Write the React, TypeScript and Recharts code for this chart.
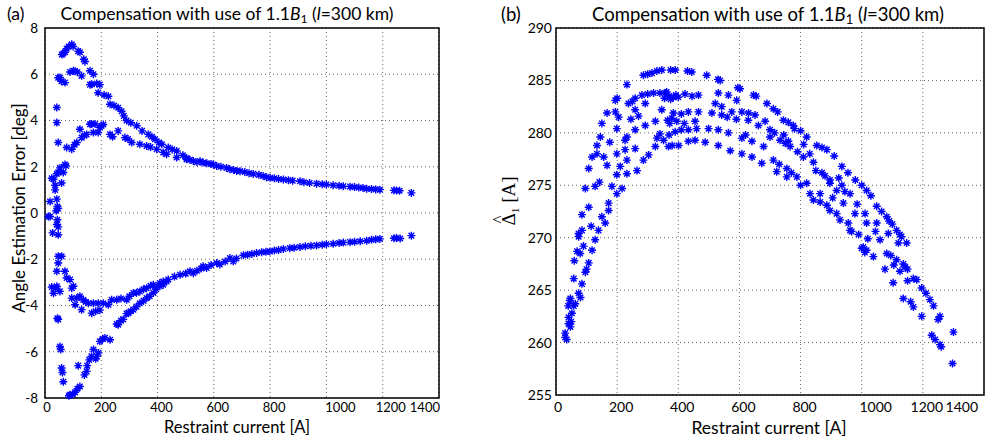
import { CartesianGrid, ReferenceArea, Scatter, ScatterChart, XAxis, YAxis } from 'recharts';

type Pt = [number, number];

const currentTicks = [0, 200, 400, 600, 800, 1000, 1200, 1400];
const errorTicks = [-8, -6, -4, -2, 0, 2, 4, 6, 8];
const deltaTicks = [255, 260, 265, 270, 275, 280, 285, 290];

// (a) angle estimation error [deg] vs restraint current [A]
const errUpperA: Pt[] = [
  [60, 6.85], [65, 6.9], [71, 6.95], [77, 7.1], [84, 7.2], [95, 7.3], [100, 7.2], [118, 7.0], [124, 6.95],
  [138, 6.65], [142, 6.55], [160, 6.15], [172, 6.0], [184, 5.6], [195, 5.55], [189, 5.2], [210, 5.1],
  [225, 5.05], [231, 4.7], [245, 4.65], [260, 4.55], [272, 4.4], [280, 4.2], [290, 4.0], [305, 3.9],
  [326, 3.77], [345, 3.55], [367, 3.4], [380, 3.3], [391, 3.19], [405, 3.05], [415, 2.97], [438, 2.83],
  [452, 2.75], [468, 2.68], [490, 2.5],
];
const errUpperB: Pt[] = [
  [47, 5.85], [53, 5.86], [58, 5.7], [71, 5.64], [89, 6.1], [101, 6.15], [107, 6.13], [115, 6.1],
  [130, 5.93], [160, 5.55], [166, 5.57],
];
const errUpperC: Pt[] = [
  [42, 4.56], [42, 3.91], [47, 3.05], [77, 2.83], [95, 2.76], [105, 2.95], [113, 3.05], [124, 3.62],
  [130, 3.26], [140, 3.35], [148, 3.4], [160, 3.84], [165, 3.85], [172, 3.48], [178, 3.85], [189, 3.48],
  [195, 3.7], [201, 3.77], [207, 3.83], [231, 3.4], [240, 3.3], [260, 3.55], [284, 3.26], [295, 3.2],
  [308, 3.05], [337, 2.97], [361, 2.9], [375, 2.85], [397, 2.76], [420, 2.62], [432, 2.54], [468, 2.4],
  [503, 2.32],
];
const errRise: Pt[] = [
  [12, -0.15], [18, 0.5], [24, 1.5], [30, 1.46], [36, 1.0], [36, 1.2], [42, 0.6], [42, 1.7], [44, 0.28],
  [47, 0.2], [47, 1.75], [53, 1.95], [59, 1.3], [65, 1.75], [71, 2.1], [75, 2.04],
  [18, -0.15], [27, -0.86], [44, -0.29], [47, -0.94], [47, -0.6], [42, -0.5], [40, 0.1],
];
const errTailUp: Pt[] = [
  [503, 2.38], [515, 2.3], [527, 2.25], [540, 2.2], [551, 2.24], [562, 2.18], [575, 2.15], [590, 2.12],
  [598, 2.1], [610, 2.03], [625, 2.0], [645, 1.95], [657, 1.89], [670, 1.86], [681, 1.82], [693, 1.81],
  [710, 1.77], [725, 1.72], [740, 1.69], [760, 1.65], [775, 1.6], [787, 1.55], [800, 1.52], [815, 1.5],
  [830, 1.47], [847, 1.45], [865, 1.42], [880, 1.4], [906, 1.37], [920, 1.33], [940, 1.3], [965, 1.27],
  [985, 1.24], [1000, 1.23], [1024, 1.2], [1045, 1.18], [1060, 1.16], [1084, 1.14], [1100, 1.12],
  [1115, 1.1], [1130, 1.08], [1143, 1.05], [1160, 1.04], [1175, 1.02], [1190, 1.01], [1240, 0.98],
  [1249, 0.97], [1260, 0.96], [1302, 0.87],
];
const errLowerA: Pt[] = [
  [24, -3.2], [30, -3.47], [36, -3.25], [47, -4.6], [44, -4.55], [53, -5.77], [56, -5.9], [59, -6.7],
  [62, -6.9], [65, -7.3], [85, -7.9], [89, -7.86], [98, -7.85], [107, -7.75], [115, -7.6], [124, -7.5],
  [118, -6.6], [140, -7.0], [148, -6.85], [150, -6.6], [157, -6.35], [165, -6.2], [172, -5.9], [180, -6.3],
  [184, -6.2], [190, -6.05], [195, -5.55], [205, -5.45], [213, -5.4], [231, -5.48], [255, -4.8],
  [260, -4.83], [270, -4.65], [278, -4.6], [290, -4.35], [296, -4.33], [305, -4.25], [314, -4.18],
  [325, -4.05], [337, -3.9], [350, -3.8], [361, -3.68], [372, -3.6], [385, -3.46], [395, -3.3],
  [408, -3.17], [420, -3.1], [432, -2.96],
];
const errLowerB: Pt[] = [
  [42, -2.52], [47, -1.87], [47, -2.16], [59, -1.87], [53, -3.39], [42, -3.17], [71, -2.52], [77, -2.81],
  [89, -2.88], [95, -3.25], [101, -3.17], [95, -3.68], [107, -3.97], [113, -3.68], [124, -3.6],
  [130, -4.18], [136, -3.75], [145, -3.85], [154, -3.9], [166, -4.33], [172, -3.9], [180, -4.25],
  [189, -3.9], [195, -4.2], [207, -3.9], [225, -3.97], [237, -3.75], [255, -3.75], [270, -3.7],
  [290, -3.75], [300, -3.6], [314, -3.46], [325, -3.45], [337, -3.39], [350, -3.3], [361, -3.25],
  [375, -3.15], [385, -3.1], [408, -3.03], [420, -2.96], [438, -2.88], [460, -2.75], [480, -2.67],
];
const errTailLow: Pt[] = [
  [500, -2.62], [515, -2.52], [527, -2.6], [540, -2.5], [555, -2.4], [562, -2.3], [574, -2.38],
  [590, -2.25], [610, -2.16], [621, -2.23], [640, -2.1], [657, -1.95], [669, -2.09], [680, -1.97],
  [705, -1.83], [720, -1.8], [735, -1.77], [752, -1.73], [770, -1.7], [785, -1.68], [799, -1.66],
  [815, -1.62], [830, -1.6], [847, -1.56], [870, -1.52], [885, -1.5], [906, -1.47], [925, -1.44],
  [945, -1.42], [965, -1.4], [985, -1.37], [1000, -1.35], [1024, -1.33], [1045, -1.3], [1060, -1.28],
  [1084, -1.26], [1100, -1.24], [1120, -1.22], [1143, -1.2], [1160, -1.16], [1175, -1.14], [1190, -1.12],
  [1240, -1.09], [1249, -1.08], [1262, -1.1], [1302, -0.98],
];

// (b) delta_1 estimate [A] vs restraint current [A]
const deltaBandA: Pt[] = [
  [286, 285.5], [300, 285.6], [314, 285.7], [330, 285.9], [346, 286], [375, 286], [390, 286], [430, 285.9],
  [444, 285.8], [493, 285.5], [530, 285.1], [537, 285], [595, 284.3], [602, 284.2], [646, 283.6],
  [655, 283.5], [690, 282.8], [711, 282.3], [725, 282], [744, 281.2], [760, 281], [776, 280.7],
  [800, 280.2], [820, 279.6], [853, 278.8], [870, 278.6], [886, 278.4], [910, 277.8], [935, 276.8],
  [955, 276.2], [979, 275.5], [1000, 275], [1016, 274.5], [1030, 274], [1049, 273], [1065, 272.5],
  [1082, 272], [1100, 271.3], [1114, 270.7], [1130, 270.1], [1147, 269.5],
];
const deltaBandB: Pt[] = [
  [194, 283.1], [200, 283.3], [232, 284.6], [237, 282.8], [250, 283], [259, 283.3], [281, 283.6],
  [300, 283.7], [319, 283.8], [340, 283.8], [357, 283.8], [370, 283.5], [384, 283.4], [400, 283.4],
  [422, 283.7], [445, 283.5], [466, 283.6], [531, 283.8], [564, 283.6], [591, 283.1], [521, 282.8],
  [542, 282.5], [575, 282], [608, 282], [630, 281.9], [651, 281.7], [684, 281.1], [700, 280.3],
  [715, 280], [733, 279.3], [750, 279], [766, 278.7], [790, 278.2], [809, 277.7], [842, 277.2],
  [870, 276.2], [896, 275.5], [935, 275], [962, 274.2], [985, 273.2], [1011, 272.3], [1049, 271.4],
  [1087, 270.4], [1120, 269.5], [1136, 267.5], [1150, 267], [1169, 266.1], [1196, 265.2],
];
const deltaBandC: Pt[] = [
  [167, 281.9], [150, 280.9], [134, 278.8], [118, 277.7], [107, 276.6], [96, 274.7], [85, 272.2],
  [74, 270.4], [69, 268.7], [58, 266.1], [47, 264.2], [41, 262.4], [30, 260.5], [199, 280.4],
  [205, 281.5], [226, 279.3], [259, 280.3], [259, 282.2], [292, 280.7], [292, 282.8], [325, 281.1],
  [346, 282.2], [379, 281.4], [384, 281.9], [410, 281.8], [433, 282], [455, 281.1], [466, 282],
  [510, 281.9], [542, 281.7], [629, 281.2], [662, 280.7],
];
const deltaBandD: Pt[] = [
  [711, 277.4], [730, 277], [755, 276.6], [770, 276.2], [788, 275.8], [820, 275.2], [864, 274.2],
  [896, 275.2], [918, 274.5], [940, 273.3], [978, 272.3], [1016, 271.4], [1060, 269.8], [1082, 268.5],
  [1114, 267.9], [1142, 267.2], [1180, 266], [1223, 264.1], [1235, 263.5], [1256, 262.5], [1300, 261],
];
const deltaBandE: Pt[] = [
  [216, 274.7], [232, 276.1], [265, 276.4], [286, 277.4], [303, 277.9], [325, 278.7], [352, 279.3],
  [370, 279.8], [390, 280.1], [410, 280.3], [433, 280.3], [460, 280.4], [499, 280.4], [531, 280.3],
  [564, 280], [608, 279.5], [641, 279.2], [679, 278.7], [842, 273.6], [886, 273.1], [918, 272.3],
  [956, 271.4], [967, 270.6], [1000, 269], [1038, 268.2], [1076, 267], [1103, 265.7], [1136, 264.2],
  [1169, 263.4], [1196, 262.5], [1229, 260.7], [1240, 260.3], [1256, 259.8], [1260, 259.6], [1297, 258],
];
const deltaBandF: Pt[] = [
  [368, 278.7], [380, 278.8], [401, 278.8], [433, 279.2], [455, 279.3], [488, 279.1], [531, 278.8],
  [570, 278.3], [608, 278], [641, 277.7], [673, 277.1], [722, 276.3], [755, 275.8], [800, 275],
  [831, 274.2], [864, 273.4], [896, 272.6], [929, 271.7], [962, 270.7], [1005, 269.1], [1016, 268.8],
];
const deltaRise: Pt[] = [
  [30, 260.9], [35, 260.3], [41, 261.8], [47, 261.5], [52, 262.8], [58, 263.5], [63, 263.7], [74, 264.7],
  [80, 264.3], [85, 265.6], [96, 266.7], [100, 267], [107, 267.6], [118, 268.8], [128, 269.8],
  [139, 270.7], [150, 272], [161, 271.4], [172, 272.6], [172, 273.3], [183, 274.9], [199, 274.2],
  [128, 274.9], [107, 272.9], [85, 270.7], [74, 270.1], [79, 268.5], [156, 277.7], [134, 278],
  [167, 276.9], [199, 276], [199, 278], [226, 278.4], [232, 277.4], [232, 279.6], [259, 278.5],
  [145, 279.6], [194, 282], [40, 263.5], [45, 264], [50, 262],
];
const deltaExtra: Pt[] = [
  [355, 283.3], [362, 283.9], [375, 283.2], [392, 283.6], [365, 281.2], [372, 280.9], [395, 281.1],
  [420, 280.9], [330, 279.5], [340, 279.9], [560, 281.5], [590, 281.3], [620, 279.8], [700, 279.6],
  [745, 279.8], [760, 279.2], [780, 280.4], [810, 278.9], [830, 278], [850, 276.4], [880, 275.9],
  [905, 273.8], [925, 275.7], [945, 274.4], [990, 270.3], [1010, 268.6], [1020, 269.9], [1045, 270.6],
  [1095, 268.3], [1105, 267.4], [1125, 266.8], [1150, 265.9], [1160, 263.9], [1210, 264.7],
  [1250, 262.2], [1125, 270.3], [1090, 271.6], [60, 267.8], [90, 269.2], [115, 271.1], [142, 275.3],
  [176, 279.1], [210, 276.8], [245, 281.3], [270, 281.6],
];

const errorSets = [errUpperA, errUpperB, errUpperC, errRise, errTailUp, errLowerA, errLowerB, errTailLow];
const deltaSets = [deltaBandA, deltaBandB, deltaBandC, deltaBandD, deltaBandE, deltaBandF, deltaRise, deltaExtra];

const FONT = 'Lato, "Liberation Sans", sans-serif';
const BLUE = '#0000ff';

const toRows = (pts: Pt[]) => pts.map(([x, y]) => ({ x, y }));

function Asterisk(props: any) {
  const { cx, cy } = props;
  if (cx == null || cy == null) return null;
  const r = 4;
  const d = 2.8;
  return (
    <path
      d={`M${cx - r},${cy}H${cx + r}M${cx},${cy - r}V${cy + r}M${cx - d},${cy - d}L${cx + d},${cy + d}M${cx - d},${cy + d}L${cx + d},${cy - d}`}
      stroke={BLUE}
      strokeWidth={1.4}
      fill="none"
    />
  );
}

function CurrentTick(props: any) {
  const { x, y, payload, size, shift1200 } = props;
  const v = payload.value;
  let anchor = 'middle';
  let dx = 4;
  if (v === 0) dx = 2;
  if (v === 1000) dx = 14;
  if (v === 1200) dx = shift1200;
  if (v === 1400) {
    anchor = 'end';
    dx = 1;
  }
  return (
    <text x={x + dx} y={y} dy="0.71em" textAnchor={anchor} fontSize={size} fill="#000" fontFamily={FONT}>
      {v}
    </text>
  );
}

const gridProps = { stroke: '#666', strokeDasharray: '1 3' };

function ErrorPanel() {
  return (
    <ScatterChart width={460} height={441} margin={{ top: 28, right: 21, bottom: 0, left: 0 }}>
      <CartesianGrid {...gridProps} />
      <XAxis
        type="number"
        dataKey="x"
        domain={[0, 1400]}
        ticks={currentTicks}
        height={43}
        axisLine={false}
        tickLine={false}
        tickSize={0}
        tickMargin={5}
        tick={<CurrentTick size={13} shift1200={8} />}
      />
      <YAxis
        type="number"
        dataKey="y"
        domain={[-8, 8]}
        ticks={errorTicks}
        width={45}
        axisLine={false}
        tickLine={false}
        tickSize={0}
        tickMargin={7}
        tick={{ fill: '#000', fontSize: 13.5, fontFamily: FONT }}
      />
      <ReferenceArea x1={0} x2={1400} y1={-8} y2={8} fill="none" stroke="#000" strokeWidth={1.5} />
      {errorSets.map((s, i) => (
        <Scatter key={i} data={toRows(s)} shape={Asterisk} isAnimationActive={false} />
      ))}
    </ScatterChart>
  );
}

function DeltaPanel() {
  return (
    <ScatterChart width={503} height={441} margin={{ top: 28, right: 9, bottom: 0, left: 0 }}>
      <CartesianGrid {...gridProps} />
      <XAxis
        type="number"
        dataKey="x"
        domain={[0, 1400]}
        ticks={currentTicks}
        height={46}
        axisLine={false}
        tickLine={false}
        tickSize={0}
        tickMargin={7}
        tick={<CurrentTick size={14} shift1200={4} />}
      />
      <YAxis
        type="number"
        dataKey="y"
        domain={[255, 290]}
        ticks={deltaTicks}
        width={66}
        axisLine={false}
        tickLine={false}
        tickSize={0}
        tickMargin={4}
        tick={{ fill: '#000', fontSize: 14, fontFamily: FONT }}
      />
      <ReferenceArea x1={0} x2={1400} y1={255} y2={290} fill="none" stroke="#000" strokeWidth={1.5} />
      {deltaSets.map((s, i) => (
        <Scatter key={i} data={toRows(s)} shape={Asterisk} isAnimationActive={false} />
      ))}
    </ScatterChart>
  );
}

const abs = (style: React.CSSProperties): React.CSSProperties => ({
  position: 'absolute',
  fontFamily: FONT,
  color: '#000',
  whiteSpace: 'nowrap',
  lineHeight: 1,
  ...style,
});

function Title({ left, size }: { left: number; size: number }) {
  return (
    <div style={abs({ left, top: 5, width: 400, textAlign: 'center', fontSize: size })}>
      Compensation with use of 1.1<i>B</i>
      <sub style={{ fontSize: '0.7em', verticalAlign: '-0.25em' }}>1</sub> (<i>l</i>=300 km)
    </div>
  );
}

export default function App() {
  return (
    <div style={{ position: 'absolute', left: 0, top: 0, width: 993, height: 441, background: '#fff' }}>
      <div style={{ position: 'absolute', left: 0, top: 0 }}>
        <ErrorPanel />
      </div>
      <div style={{ position: 'absolute', left: 490, top: 0 }}>
        <DeltaPanel />
      </div>

      <div style={abs({ left: 7, top: 5, fontSize: 17.5 })}>(a)</div>
      <div style={abs({ left: 501, top: 5, fontSize: 18.5 })}>(b)</div>
      <Title left={27} size={17.5} />
      <Title left={568} size={18.5} />

      <div style={abs({ left: 37, top: 419, width: 400, textAlign: 'center', fontSize: 16.5 })}>
        Restraint current [A]
      </div>
      <div style={abs({ left: 569, top: 419, width: 400, textAlign: 'center', fontSize: 17.5 })}>
        Restraint current [A]
      </div>

      <div
        style={abs({
          left: 18,
          top: 208,
          fontSize: 17,
          transform: 'translate(-50%, -50%) rotate(-90deg)',
        })}
      >
        Angle Estimation Error [deg]
      </div>
      <div
        style={abs({
          left: 510,
          top: 201,
          fontSize: 19,
          fontFamily: '"Liberation Serif", "DejaVu Serif", serif',
          transform: 'translate(-50%, -50%) rotate(-90deg)',
        })}
      >
        <span style={{ position: 'relative', display: 'inline-block' }}>
          {'\u0394'}
          <span
            style={{
              position: 'absolute',
              left: '50%',
              top: '-0.55em',
              transform: 'translateX(-50%)',
              fontSize: '0.9em',
            }}
          >
            ^
          </span>
        </span>
        <sub style={{ fontSize: '0.6em', verticalAlign: '-0.3em' }}>1</sub> [A]
      </div>
    </div>
  );
}
